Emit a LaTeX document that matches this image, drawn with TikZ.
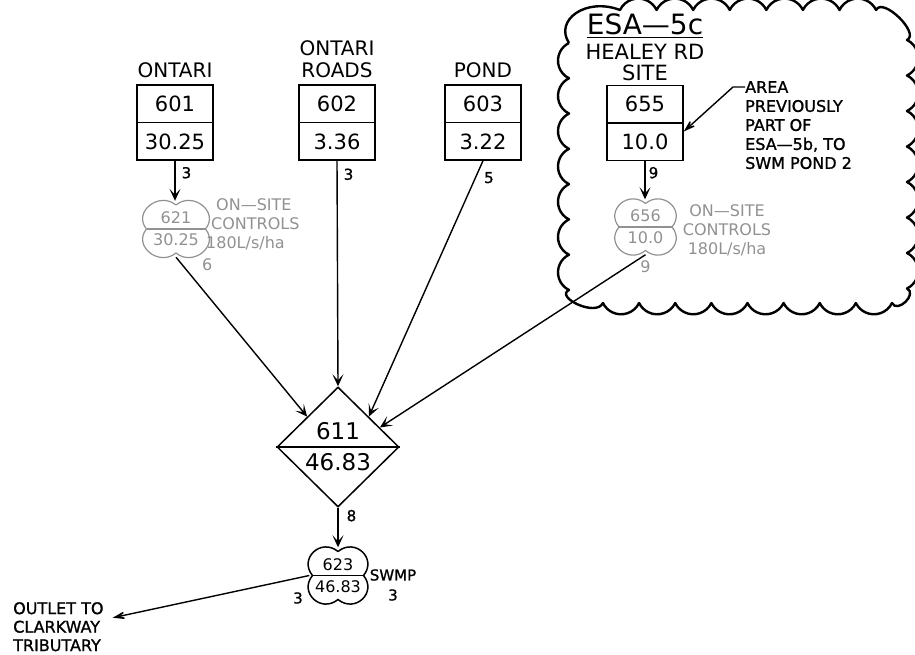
\documentclass[tikz,border=0pt]{standalone}
\usepackage{fontspec}
\setmainfont{DejaVu Sans}
\newfontfamily\cadheavy[FakeBold=1.2]{DejaVu Sans}
\usetikzlibrary{
    arrows.meta,
    positioning,
    shapes.geometric
}
\definecolor{ctrlgray}{RGB}{145,145,145}

\begin{document}
\begin{tikzpicture}[
    x=1pt, y=-1pt,
    basin/.style={
        draw,
        line width=1.5pt,
        minimum width=76pt,
        minimum height=75pt,
        inner sep=0pt,
        align=center,
        font=\fontsize{21}{38}\selectfont
    },
    title/.style={inner sep=0pt, align=center, font=\fontsize{20}{22}\selectfont},
    flow/.style={-{Stealth[length=12pt,width=11pt,inset=6pt]}, line width=1.4pt},
    callout/.style={-{Stealth[length=20pt,width=13pt,inset=13pt]}, line width=1.4pt},
    num/.style={inner sep=0pt, font=\cadheavy\fontsize{15}{18}\selectfont},
    note/.style={inner sep=0pt, align=left, font=\cadheavy\fontsize{16}{19}\selectfont},
    ctrl/.style={inner sep=0pt, text=ctrlgray, font=\fontsize{16}{19}\selectfont},
    lobenode/.style={inner sep=0pt, align=center, font=\fontsize{16}{22}\selectfont},
    pics/lobes/.style 2 args={code={
        \draw (0,-#2+4) .. controls (17,-#2-10) and (#1+11,-17) .. (#1-3,0)
            .. controls (#1+11,17) and (17,#2+10) .. (0,#2-4)
            .. controls (-17,#2+10) and (-#1-11,17) .. (-#1+3,0)
            .. controls (-#1-11,-17) and (-17,-#2-10) .. (0,-#2+4);
        \draw (-#1+3,0) -- (#1-3,0);
    }}
]
\useasboundingbox (0,0) rectangle (915,655);

% revision cloud round the Healey Rd site
\draw[line width=2.4pt, line join=round]
    (569,43) .. controls (554,20) and (586,-3) .. (620,10)
    \foreach \k in {1,...,7} {arc[start angle=-154, end angle=-26, radius=20.35]}
    .. controls (882.6,-3.5) and (920.5,33.4) .. (907,40)
    \foreach \k in {1,...,7} {arc[start angle=-64, end angle=64, radius=19.75]}
    .. controls (917.8,293.8) and (897.3,313.8) .. (892,303)
    \foreach \k in {1,...,8} {arc[start angle=26, end angle=154, radius=20.1]}
    .. controls (596,317.4) and (554.6,297) .. (569,290)
    \foreach \k in {1,...,7} {arc[start angle=116, end angle=244, radius=19.63]};

% catchment boxes
\node[basin] (b601) at (175,122.5) {601\\30.25};
\node[basin] (b602) at (337,122.5) {602\\3.36};
\node[basin] (b603) at (483,122.5) {603\\3.22};
\node[basin] (b655) at (645,123) {655\\10.0};
\foreach \b in {b601,b602,b603,b655}
    \draw[line width=1.5pt] (\b.west) -- (\b.east);

\node[title, above=6pt of b601] (t601) {ONTARI};
\node[title, above=6pt of b602] (t602) {ONTARI\\ROADS};
\node[title, above=6pt of b603] (t603) {POND};
\node[title, font=\fontsize{21}{21.5}\selectfont, above=3.5pt of b655] (t655) {HEALEY RD\\SITE};
\node[inner sep=0pt, font=\fontsize{28}{30}\selectfont, above=9pt of t655] (esa) {ESA—5c};
\draw[line width=1.3pt] ([yshift=-2.5pt]esa.south west) -- ([yshift=-2.5pt]esa.south east);

\node[note, anchor=north west] (note) at (745,81)
{AREA\\PREVIOUSLY\\PART OF\\ESA—5b, TO\\SWM POND 2};
\draw[callout] ([yshift=-6pt]note.north west) -- ++(-12,0) -- ([yshift=-8.5pt]b655.east);

% on-site controls
\node[lobenode, text=ctrlgray, minimum width=65pt, minimum height=56pt] (n621) at (176,229) {621\\30.25};
\pic[ctrlgray, line width=1.2pt] at (n621) {lobes={32.5}{28}};
\node[ctrl, align=left, anchor=west] (c621) at (206,224)
{\hspace*{10pt}ON—SITE\\\hspace*{5pt}CONTROLS\\180L/s/ha};
\node[ctrl, anchor=north west] (q621) at (202,258) {6};

\node[lobenode, text=ctrlgray, minimum width=59pt, minimum height=55pt] (n656) at (645.5,227) {656\\10.0};
\pic[ctrlgray, line width=1.2pt] at (n656) {lobes={29.5}{27.5}};
\node[ctrl, align=center] (c656) at (727,230) {ON—SITE\\CONTROLS\\180L/s/ha};
\node[ctrl, below=6pt of n656] (q656) {9};

% junction and pond
\node[draw, diamond, line width=1.5pt, minimum width=122pt, minimum height=120pt,
    inner sep=0pt, align=center, font=\fontsize{23}{31}\selectfont] (d611) at (338,447) {611\\46.83};
\draw[line width=1.5pt] (d611.west) -- (d611.east);

\node[lobenode, minimum width=57pt, minimum height=56pt] (n623) at (338,575.5) {623\\46.83};
\pic[line width=1.5pt] at (n623) {lobes={28.5}{28}};
\node[num, align=center, font=\cadheavy\fontsize{15}{20}\selectfont] (swmp) at (393,585) {SWMP\\3};
\node[num] (q623) at (298,598) {3};

\node[note, anchor=north west, font=\cadheavy\fontsize{16}{18.5}\selectfont] (outlet) at (13,602)
{OUTLET TO\\CLARKWAY\\TRIBUTARY};

% flows
\draw[flow] (b601.south) -- node[num, pos=0.3, right=6pt] (q601) {3} (b601.south |- n621.north);
\draw[flow] (b655.south) -- node[num, pos=0.3, right=3pt] (q655) {9} (b655.south |- n656.north);
\draw[flow] (n621.south) -- (d611.north west);
\draw[flow] (b602.south) -- node[num, pos=0.06, right=6pt] (q602) {3} (d611.north);
\draw[flow] (b603.south) -- node[num, pos=0.066, right=8pt] (q603) {5} (d611.north east);
\draw[flow] (n656.south) -- (d611.25);
\draw[flow] (d611.south) -- node[num, pos=0.2, right=8pt] (q611) {8} (n623.north);
\draw[callout] (n623.west) -- ([xshift=9pt,yshift=9pt]outlet.east);

\end{tikzpicture}
\end{document}
